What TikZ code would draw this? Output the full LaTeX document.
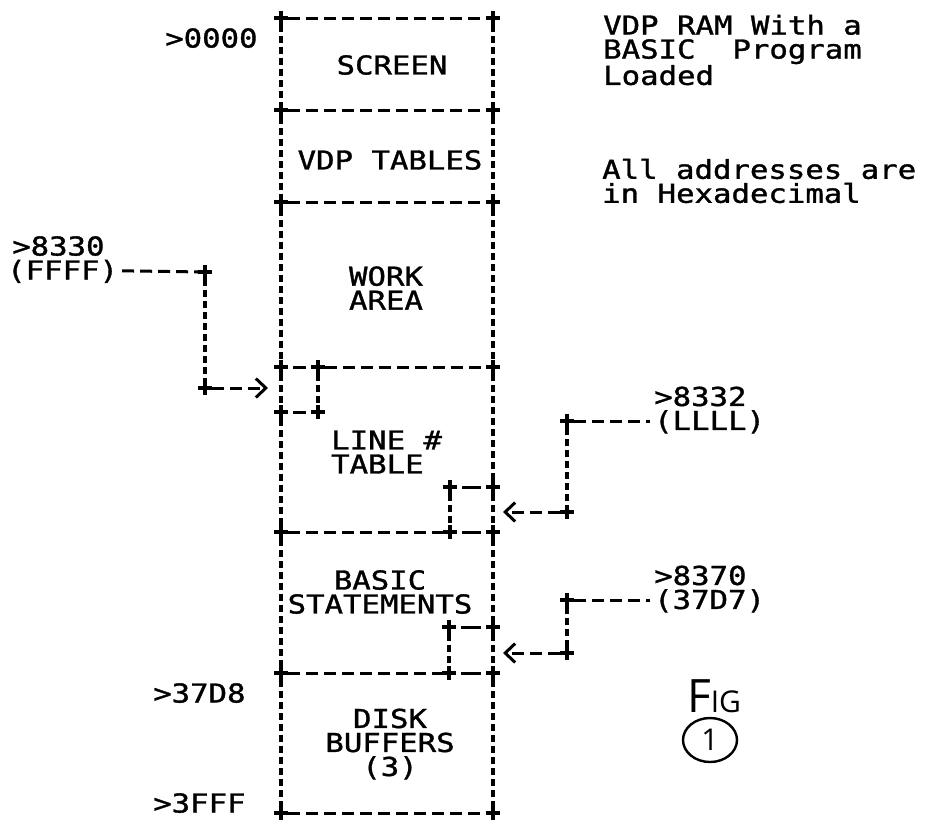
\documentclass[tikz,border=0pt]{standalone}
\usepackage{fontspec}
\newfontfamily\dotfont[FakeStretch=1.18, FakeBold=1.3]{DejaVu Sans Mono}
\newfontfamily\handfont{Open Sans}
\usetikzlibrary{arrows.meta, shapes.geometric}

\begin{document}
\begin{tikzpicture}[x=1pt, y=-1pt,
  every node/.style={font=\dotfont\fontsize{26}{24}\selectfont, inner sep=0pt},
  lbl/.style={anchor=west, text height=19pt, text depth=0pt},
  crn/.style={minimum size=14pt, append after command={(\tikzlastnode.north) edge[line width=3.2pt] (\tikzlastnode.south) (\tikzlastnode.west) edge[line width=3.2pt] (\tikzlastnode.east)}},
  hln/.style={line width=3pt, dash pattern=on 12pt off 6pt},
  sln/.style={line width=3pt, shorten <=5pt, shorten >=5pt},
  vln/.style={line width=3.4pt, dash pattern=on 7pt off 4pt},
  ptr/.style={hln, -{Straight Barb[length=10pt, width=19pt]}}]
  \useasboundingbox (0,0) rectangle (925,820);
  % corners of the memory column
  \foreach \y [count=\i from 0] in {18,110,202,367,532,673,813} {
    \node[crn] (l\i) at (281,\y) {};
    \node[crn] (r\i) at (493,\y) {};
  }
  % small boxes where the pointers land
  \node[crn] (m3) at (318,367) {};
  \node[crn] (m3b) at (318,412) {};
  \node[crn] (lx) at (281,412) {};
  \node[crn] (q4) at (450,487) {};
  \node[crn] (rq4) at (493,487) {};
  \node[crn] (n4) at (450,532) {};
  \node[crn] (q5) at (449,627) {};
  \node[crn] (rq5) at (493,627) {};
  \node[crn] (n5) at (449,673) {};
  % pointer corners
  \node[crn] (p1) at (205,272) {};
  \node[crn] (p2) at (205,388) {};
  \node[crn] (p3) at (567,421) {};
  \node[crn] (p4) at (567,512) {};
  \node[crn] (p5) at (567,600) {};
  \node[crn] (p6) at (567,653) {};
  \coordinate (ffin) at (268,388);
  \coordinate (lfin) at (503,512);
  \coordinate (sfin) at (503,653);
  \coordinate (lllw) at (650,421);
  \coordinate (d7w) at (650,600);

  % region names
  \node (screen) at (392,65) {SCREEN};
  \node (vdptab) at (390,160) {VDP TABLES};
  \node[align=center] (work) at (386,288) {WORK\\AREA};
  \node[anchor=west, align=left] (linetab) at (331,452) {LINE \#\\TABLE};
  \node[align=center] (basic) at (380,592) {BASIC\\STATEMENTS};
  \node[align=center] (disk) at (390,744) {DISK\\BUFFERS\\(3)};

  % addresses
  \node[lbl] (a0000) at (165,38) {>0000};
  \node[lbl] (a8330) at (12,246) {>8330};
  \node[lbl] (ffff) at (7,270) {(FFFF)};
  \node[lbl] (a37d8) at (153,693) {>37D8};
  \node[lbl] (a3fff) at (153,803) {>3FFF};
  \node[anchor=west, align=left] (a8332) at (654,410) {>8332\\(LLLL)};
  \node[anchor=west, align=left] (a8370) at (654,589) {>8370\\(37D7)};

  % notes
  \node[anchor=west, align=left] (title) at (603,50) {VDP RAM With a\\BASIC\ \ Program\\Loaded};
  \node[anchor=west, align=left] (note) at (602,181) {All addresses are\\in Hexadecimal};
  \node[anchor=base, font=\handfont] (fig) at (714,712) {\fontsize{46}{46}\selectfont F\fontsize{30}{30}\selectfont IG};
  \node[draw, ellipse, line width=2.4pt, minimum width=54pt, minimum height=44pt, font=\handfont\fontsize{30}{30}\selectfont] (fignum) at (710,740) {1};

  % column walls and dividers
  \foreach \i in {0,1,2,6} \draw[hln] (l\i) -- (r\i);
  \draw[hln] (m3) -- (r3);
  \draw[hln] (l4) -- (n4);
  \draw[hln] (l5) -- (n5);
  \foreach \a/\b in {l3/m3, n4/r4, n5/r5, lx/m3b, q4/rq4, q5/rq5} \draw[sln] (\a) -- (\b);
  \foreach \a/\b in {l0/l1, l1/l2, l2/l3, l3/lx, lx/l4, l4/l5, l5/l6} \draw[vln] (\a) -- (\b);
  \foreach \a/\b in {r0/r1, r1/r2, r2/r3, r3/rq4, rq4/r4, r4/rq5, rq5/r5, r5/r6} \draw[vln] (\a) -- (\b);
  \foreach \a/\b in {m3/m3b, q4/n4, q5/n5} \draw[vln] (\a) -- (\b);

  % pointers
  \draw[hln, shorten <=4pt] (ffff) -- (p1);
  \draw[vln] (p1) -- (p2);
  \draw[ptr] (p2) -- (ffin);
  \draw[hln] (p3) -- (lllw);
  \draw[vln] (p3) -- (p4);
  \draw[ptr] (p4) -- (lfin);
  \draw[hln] (p5) -- (d7w);
  \draw[vln] (p5) -- (p6);
  \draw[ptr] (p6) -- (sfin);
\end{tikzpicture}
\end{document}
